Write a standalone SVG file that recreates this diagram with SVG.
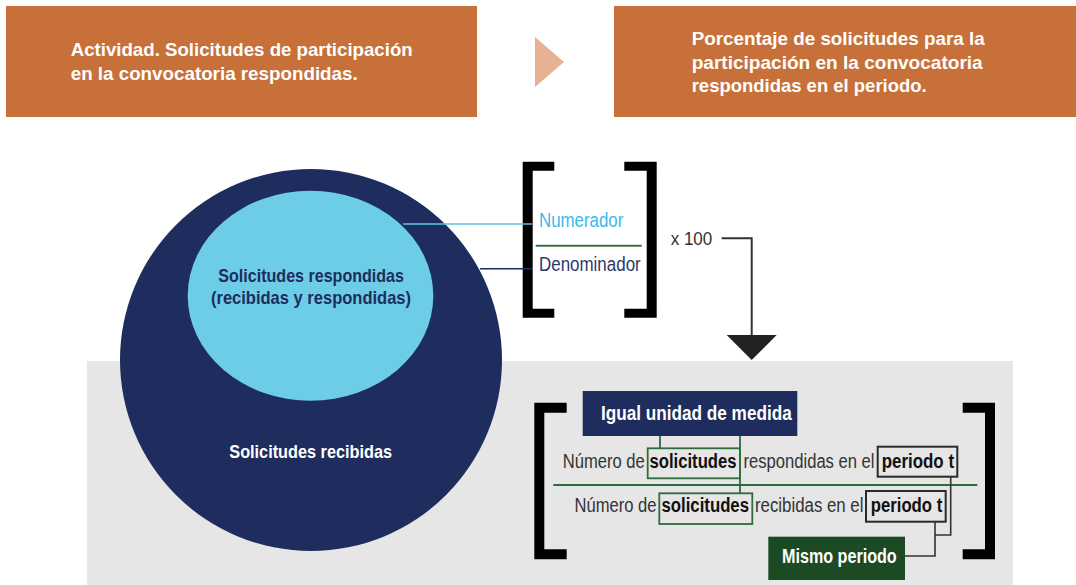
<svg xmlns="http://www.w3.org/2000/svg" width="1076" height="585" viewBox="0 0 1076 585">
<defs>
<style>
text{font-family:"Liberation Sans",Arial,sans-serif}
.hdr{fill:#C8703A}
.ht{fill:#fff;font-weight:bold;font-size:19px}
.br{fill:#000}
.num{font-size:20px;fill:#333}
.bold{font-size:20px;fill:#111;font-weight:bold}
.gbox{fill:none;stroke:#2F6B3C;stroke-width:1.8}
.kbox{fill:none;stroke:#2a2a2a;stroke-width:2}
.gl{stroke:#2F6B3C;stroke-width:1.8;fill:none}
.kl{stroke:#333;stroke-width:1.6;fill:none}
</style>
</defs>
<rect width="1076" height="585" fill="#fff"/>
<rect x="87" y="361" width="926" height="224" fill="#E6E6E6"/>

<g id="header-left">
<rect class="hdr" x="6" y="6" width="471" height="111"/>
<text class="ht" x="70.7" y="56" textLength="342" lengthAdjust="spacingAndGlyphs">Actividad. Solicitudes de participación</text>
<text class="ht" x="70.7" y="79.5" textLength="287" lengthAdjust="spacingAndGlyphs">en la convocatoria respondidas.</text>
</g>
<g id="header-arrow">
<polygon points="535,37 564,62 535,87" fill="#E5B393"/>
</g>
<g id="header-right">
<rect class="hdr" x="614" y="6" width="462" height="111"/>
<text class="ht" x="691.7" y="45" textLength="293" lengthAdjust="spacingAndGlyphs">Porcentaje de solicitudes para la</text>
<text class="ht" x="691.7" y="68.5" textLength="291" lengthAdjust="spacingAndGlyphs">participación en la convocatoria</text>
<text class="ht" x="691.7" y="92" textLength="235" lengthAdjust="spacingAndGlyphs">respondidas en el periodo.</text>
</g>

<g id="circle-recibidas">
<circle cx="311" cy="360" r="191" fill="#1E2D5E"/>
<text x="229.3" y="458.3" font-size="19" font-weight="bold" fill="#fff" textLength="162.7" lengthAdjust="spacingAndGlyphs">Solicitudes recibidas</text>
</g>
<g id="ellipse-respondidas">
<ellipse cx="310.5" cy="295.7" rx="122.8" ry="105" fill="#6DCDE6"/>
<text x="218.3" y="281.7" font-size="19" font-weight="bold" fill="#1E2D5E" textLength="185.7" lengthAdjust="spacingAndGlyphs">Solicitudes respondidas</text>
<text x="211" y="304.3" font-size="19" font-weight="bold" fill="#1E2D5E" textLength="200" lengthAdjust="spacingAndGlyphs">(recibidas y respondidas)</text>
</g>

<g id="fraction-top">
<path class="br" d="M522.7,161.7 H554.3 V170.7 H532.7 V308.7 H554.3 V317.7 H522.7 Z"/>
<path class="br" d="M656.7,161.7 H624.3 V170.7 H646.7 V308.7 H624.3 V317.7 H656.7 Z"/>
<text x="539" y="227.3" font-size="20" fill="#3DB8E8" textLength="84.3" lengthAdjust="spacingAndGlyphs">Numerador</text>
<line x1="535.7" y1="245.7" x2="641.7" y2="245.7" stroke="#3E7048" stroke-width="2"/>
<text x="539" y="270.7" font-size="20" fill="#2B3A6B" textLength="101.7" lengthAdjust="spacingAndGlyphs">Denominador</text>
<text x="670.7" y="245" font-size="18" fill="#333" textLength="41.6" lengthAdjust="spacingAndGlyphs">x 100</text>
</g>

<g id="formula">
<path class="br" d="M534.3,402.7 H566.7 V412.7 H544.3 V549.3 H566.7 V559.3 H534.3 Z"/>
<path class="br" d="M995,402.7 H962.7 V412.7 H985 V549.3 H962.7 V559.3 H995 Z"/>
<text class="num" transform="translate(562.7 468.3) scale(0.835 1)" textLength="98.2" lengthAdjust="spacingAndGlyphs">Número de</text>
<text class="bold" transform="translate(649.5 468.3) scale(0.835 1)" textLength="104.2" lengthAdjust="spacingAndGlyphs">solicitudes</text>
<text class="num" transform="translate(743.5 468.3) scale(0.835 1)" textLength="156.9" lengthAdjust="spacingAndGlyphs">respondidas en el</text>
<text class="bold" transform="translate(881.7 468.3) scale(0.835 1)" textLength="86.6" lengthAdjust="spacingAndGlyphs">periodo t</text>
<line x1="553.3" y1="485" x2="977.3" y2="485" stroke="#2F6B3C" stroke-width="1.8"/>
<text class="num" transform="translate(574.5 511.7) scale(0.835 1)" textLength="98.2" lengthAdjust="spacingAndGlyphs">Número de</text>
<text class="bold" transform="translate(661.5 511.7) scale(0.835 1)" textLength="104.8" lengthAdjust="spacingAndGlyphs">solicitudes</text>
<text class="num" transform="translate(755 511.7) scale(0.835 1)" textLength="129.9" lengthAdjust="spacingAndGlyphs">recibidas en el</text>
<text class="bold" transform="translate(870.7 511.7) scale(0.835 1)" textLength="85.7" lengthAdjust="spacingAndGlyphs">periodo t</text>
<rect class="gbox" x="647.7" y="448.3" width="92.3" height="30"/>
<rect class="gbox" x="659.3" y="493.3" width="93" height="30.7"/>
<rect class="kbox" x="877.7" y="446.7" width="79.6" height="30"/>
<rect class="kbox" x="866" y="491" width="79.7" height="30.7"/>
</g>

<g id="igual-unidad">
<rect x="582.7" y="391" width="214.6" height="45" fill="#1E2D5E"/>
<text x="601" y="420" font-size="20" font-weight="bold" fill="#fff" textLength="190.7" lengthAdjust="spacingAndGlyphs">Igual unidad de medida</text>
</g>
<g id="mismo-periodo">
<rect x="768.3" y="536.7" width="136.7" height="43.3" fill="#1B4A24"/>
<text x="782" y="563.3" font-size="20" font-weight="bold" fill="#fff" textLength="114.7" lengthAdjust="spacingAndGlyphs">Mismo periodo</text>
</g>

<g id="connectors">
<line x1="403" y1="224" x2="532" y2="224" stroke="#5BC4E0" stroke-width="1.6"/>
<line x1="480" y1="268.7" x2="532" y2="268.7" stroke="#1E2D5E" stroke-width="1.6"/>
<path d="M721.7,238.3 H751.7 V336" fill="none" stroke="#333" stroke-width="2"/>
<polygon points="726.7,335 776.7,335 751.7,360" fill="#222"/>
<line class="gl" x1="660" y1="436" x2="660" y2="448.3"/>
<line class="gl" x1="740" y1="436" x2="740" y2="493.3"/>
<path class="kl" d="M950.7,476.7 V535 H935"/>
<path class="kl" d="M935,521.7 V556 H905"/>
</g>
</svg>
